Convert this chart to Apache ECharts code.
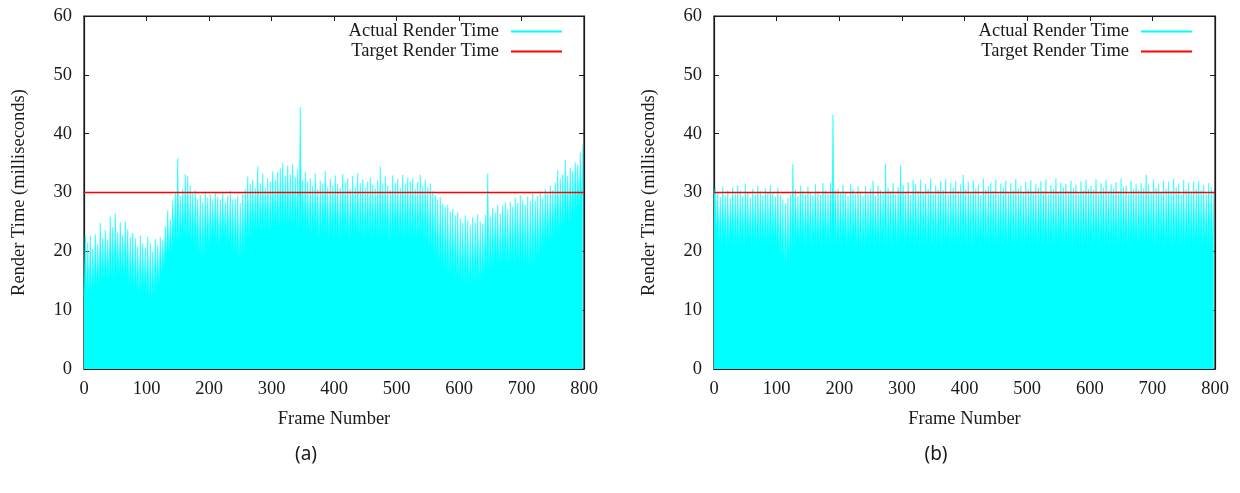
<!DOCTYPE html>
<html>
<head>
<meta charset="utf-8">
<script src="https://cdn.jsdelivr.net/npm/echarts@6/dist/echarts.min.js"></script>
<style>
html,body{margin:0;padding:0;background:#fff;}
#chart{width:1240px;height:493px;}
</style>
</head>
<body>
<div id="chart"></div>
<script>
// ---- data ----
const frameStep = 2; // one value every 2 frames
const xTickMin = 0, xTickMax = 800, xTickStep = 100;
const yTickMin = 0, yTickMax = 60, yTickStep = 10;
const targetRenderTime = 30;
const seriesNames = ['Actual Render Time', 'Target Render Time'];
const panelCaptions = ['(a)', '(b)'];

const actualA = [
12.5,22.8,12.2,21.5,13.0,22.6,12.8,20.4,13.6,22.9,13.9,21.2,14.5,24.8,14.8,22.3,15.1,23.6,14.6,22.0,
15.3,25.9,15.6,24.1,15.0,26.4,15.8,23.2,16.1,24.9,15.4,22.7,15.9,25.1,15.2,23.8,14.1,22.4,13.6,23.1,
12.9,22.2,13.4,20.8,12.4,22.7,12.8,21.3,13.1,20.6,12.2,22.5,11.8,21.4,11.5,19.9,12.6,22.1,13.3,21.0,
14.2,22.4,15.6,21.8,17.1,24.3,18.4,26.9,19.2,25.4,19.8,28.6,20.7,30.1,21.2,35.8,21.5,29.4,21.8,30.6,
22.0,33.1,21.6,32.8,21.9,31.2,21.3,29.8,20.9,30.4,20.4,28.9,19.6,29.6,18.6,28.4,19.1,30.2,20.3,29.1,
20.8,29.7,21.4,28.6,21.9,30.1,21.1,29.3,20.6,28.8,21.5,29.9,21.8,28.4,20.9,29.5,21.2,30.3,20.4,28.7,
19.6,28.9,18.8,29.4,18.5,28.2,19.0,29.8,19.9,30.6,21.2,32.7,22.1,31.4,22.6,32.1,22.9,30.8,23.1,34.4,
23.2,31.6,22.8,33.2,23.4,30.9,23.7,32.4,23.1,31.8,23.5,33.6,23.9,32.2,24.1,33.4,23.6,34.1,23.8,35.0,
24.2,32.9,23.9,34.6,24.4,33.1,23.7,34.8,24.0,32.6,23.6,33.9,23.3,44.5,23.8,32.1,23.1,33.5,22.7,31.8,
22.9,32.4,22.5,31.1,23.0,33.2,22.6,30.6,22.2,32.0,22.8,31.5,23.1,33.6,22.4,30.9,22.0,32.3,22.6,31.2,
22.3,32.9,22.7,31.4,21.9,30.8,22.4,33.1,22.9,31.7,22.1,32.4,21.6,30.5,22.5,32.8,23.0,31.0,22.2,33.3,
22.6,31.6,22.0,32.2,21.8,30.9,22.3,31.8,22.7,32.6,21.9,31.3,22.4,30.7,22.8,32.1,22.1,34.4,21.7,31.5,
22.2,32.7,22.6,31.2,21.5,30.4,22.0,32.9,22.4,31.6,21.8,32.3,22.9,30.8,22.3,33.0,21.6,31.4,22.1,32.5,
22.5,31.9,21.9,32.4,22.2,30.6,21.7,31.8,22.6,33.0,22.0,31.1,21.4,32.2,21.0,30.9,20.3,31.5,19.6,30.2,
19.0,29.6,18.4,28.8,18.0,29.2,17.3,28.1,16.8,27.6,16.4,27.9,16.0,26.8,15.7,27.2,15.3,26.1,15.1,26.6,
14.8,25.6,14.6,24.8,14.3,26.1,14.5,25.2,14.2,24.4,14.0,25.8,14.4,24.9,14.7,26.3,14.9,25.1,14.6,24.7,
15.4,26.2,16.1,33.2,16.8,25.9,17.2,27.4,17.5,26.6,17.8,27.9,17.3,26.4,17.6,27.7,17.9,28.3,17.4,27.1,
17.7,28.4,18.0,27.6,17.6,29.1,17.9,28.2,18.2,29.6,17.8,28.7,17.4,27.9,17.1,29.3,17.0,28.5,17.3,29.8,
17.6,28.6,18.3,29.4,18.9,30.2,19.6,29.1,20.2,30.6,20.8,29.8,21.3,31.2,21.8,30.4,22.2,31.7,22.6,33.8,
23.0,32.4,23.4,33.1,23.9,35.5,24.3,32.8,24.8,34.2,25.2,33.6,25.9,35.1,26.6,34.7,27.4,36.8,28.6,38.4
];

const actualB = [
29.5,30.8,22.4,30.1,21.6,29.2,20.8,31.0,21.9,29.6,20.2,30.4,21.4,29.0,22.1,30.9,20.6,29.8,21.2,31.2,
20.9,30.3,21.7,29.4,20.4,31.5,21.3,30.0,22.0,29.1,20.7,30.6,21.5,29.7,20.3,31.1,21.8,30.2,20.9,29.5,
21.4,30.7,20.6,29.9,21.9,31.3,20.8,30.1,21.2,29.3,20.5,30.8,19.8,29.6,18.9,28.7,17.4,28.2,16.9,29.1,
18.3,29.8,19.6,34.8,20.7,30.5,21.4,29.4,20.9,31.2,21.6,30.3,20.4,29.7,21.1,31.0,21.8,30.1,20.6,29.5,
21.3,31.4,20.8,30.2,21.6,29.6,20.4,31.6,21.9,30.4,21.0,29.8,20.7,31.7,21.5,43.2,21.2,30.3,20.9,30.6,
21.4,29.9,20.6,31.3,21.8,30.1,20.3,29.4,21.1,31.5,20.8,30.6,21.5,29.7,20.4,31.0,20.1,30.2,19.7,29.3,
20.5,31.1,21.2,29.8,20.9,30.7,21.6,32.0,20.3,29.5,21.4,31.2,20.7,30.4,21.8,29.9,21.0,34.9,20.6,30.8,
21.3,30.2,20.5,31.6,21.7,29.7,20.8,30.9,21.2,34.6,21.9,31.3,20.4,30.0,21.5,31.8,20.9,29.6,21.6,32.1,
20.7,31.4,21.8,30.3,20.4,32.2,21.1,29.9,21.6,31.5,20.9,30.6,21.4,32.4,20.6,29.8,21.7,31.2,21.0,30.5,
21.5,31.9,20.8,30.4,21.3,32.3,21.9,29.7,20.5,31.6,21.2,30.8,20.7,32.0,21.6,30.2,21.0,31.4,20.6,33.0,
21.4,30.6,20.9,31.8,21.7,29.9,20.3,32.1,21.1,30.7,21.8,31.3,20.6,29.6,21.3,32.4,20.8,30.5,21.6,31.1,
20.4,31.7,21.5,30.3,20.9,32.2,21.2,29.8,21.7,31.5,20.6,30.9,21.4,32.0,20.7,30.1,21.9,31.6,21.1,30.4,
20.5,32.3,21.3,30.7,21.8,31.2,20.8,29.9,21.0,31.8,21.6,30.5,20.4,32.1,21.2,30.2,21.7,31.4,20.9,30.8,
21.4,31.9,20.6,30.3,21.9,32.2,21.1,29.7,20.7,31.3,21.5,30.6,20.9,32.4,21.3,30.1,21.8,31.7,20.5,30.9,
21.2,31.5,20.8,30.2,21.6,32.0,20.4,30.7,21.3,31.3,21.9,29.8,20.6,31.9,21.0,30.4,21.7,32.2,20.9,30.6,
21.5,31.1,20.7,30.5,21.2,32.3,21.8,29.9,20.5,31.6,21.4,30.8,20.9,32.1,21.6,30.3,20.6,31.4,21.1,30.7,
21.7,31.8,20.8,30.2,21.3,32.4,20.5,30.9,21.9,31.2,21.0,29.8,20.6,32.0,21.4,30.6,21.8,31.5,20.7,30.4,
21.2,31.6,20.9,30.7,21.5,33.0,20.6,31.3,21.7,30.1,21.1,32.2,20.4,30.8,21.6,31.5,20.8,29.9,21.3,32.0,
20.7,30.6,21.8,31.9,21.0,30.3,20.5,32.3,21.4,30.9,21.9,31.4,20.6,29.7,21.2,32.1,20.8,30.5,21.5,31.7,
21.1,30.2,20.7,31.8,21.6,30.6,20.9,32.0,21.3,30.4,20.5,31.3,21.8,29.8,21.0,31.6,20.6,30.9,21.4,30.3
];

// ---- chart ----
const SERIF = '"Liberation Serif", "DejaVu Serif", serif';
const FS = 18.5;
const INK = '#1a1a1a';
const CYAN = '#00ffff';
const RED = '#ff0000';

const panels = [
  { left: 84, width: 500, data: actualA, legendRight: 678, caption: panelCaptions[0], capX: 306 },
  { left: 714, width: 501, data: actualB, legendRight: 48, caption: panelCaptions[1], capX: 936 }
];
const gridTop = 16, gridHeight = 353;

const grids = [], xAxes = [], yAxes = [], series = [], legends = [], graphics = [];

panels.forEach((p, i) => {
  grids.push({ left: p.left, top: gridTop, width: p.width, height: gridHeight,
    show: true, borderColor: INK, borderWidth: 1.2, backgroundColor: 'transparent' });

  const xBase = { gridIndex: i, type: 'value', min: xTickMin, max: xTickMax, interval: xTickStep,
    splitLine: { show: false },
    axisLine: { show: true, onZero: false, lineStyle: { color: INK, width: 1.2 } },
    axisTick: { show: true, inside: true, length: 5, lineStyle: { color: INK, width: 1 } } };
  xAxes.push(Object.assign({}, xBase, { position: 'bottom',
    axisLabel: { margin: 11, fontFamily: SERIF, fontSize: FS, color: INK },
    name: 'Frame Number', nameLocation: 'middle', nameGap: 41,
    nameTextStyle: { fontFamily: SERIF, fontSize: FS, color: INK } }));
  xAxes.push(Object.assign({}, xBase, { position: 'top', axisLabel: { show: false } }));

  const yBase = { gridIndex: i, type: 'value', min: yTickMin, max: yTickMax, interval: yTickStep,
    splitLine: { show: false },
    axisLine: { show: true, onZero: false, lineStyle: { color: INK, width: 1.2 } },
    axisTick: { show: true, inside: true, length: 5, lineStyle: { color: INK, width: 1 } } };
  yAxes.push(Object.assign({}, yBase, { position: 'left',
    axisLabel: { margin: 12, fontFamily: SERIF, fontSize: FS, color: INK },
    name: 'Render Time (milliseconds)', nameLocation: 'middle', nameGap: 55, nameRotate: 90,
    nameTextStyle: { fontFamily: SERIF, fontSize: FS, color: INK } }));
  yAxes.push(Object.assign({}, yBase, { position: 'right', axisLabel: { show: false } }));

  series.push({
    name: seriesNames[0], type: 'line', xAxisIndex: i * 2, yAxisIndex: i * 2,
    data: p.data.map((v, k) => [k * frameStep, v]),
    symbol: 'none', showSymbol: false, sampling: null, smooth: false,
    lineStyle: { color: CYAN, width: 0.5 },
    itemStyle: { color: CYAN },
    areaStyle: { color: CYAN, opacity: 1 },
    z: 2, silent: true
  });
  series.push({
    name: seriesNames[1], type: 'line', xAxisIndex: i * 2, yAxisIndex: i * 2,
    data: [[xTickMin, targetRenderTime], [xTickMax, targetRenderTime]],
    symbol: 'none', showSymbol: false,
    lineStyle: { color: RED, width: 1.5 },
    itemStyle: { color: RED },
    z: 3, silent: true
  });

  legends.push({
    data: seriesNames, orient: 'vertical', right: p.legendRight, top: 22, padding: 0,
    align: 'right', icon: 'rect', itemWidth: 51, itemHeight: 2, itemGap: 1,
    textStyle: { fontFamily: SERIF, fontSize: FS, color: INK, padding: [0, 7, 0, 0] },
    selectedMode: false
  });

  graphics.push({ type: 'text', x: p.capX, y: 445,
    style: { text: p.caption, font: '19px "Noto Sans", "Open Sans", sans-serif', fill: INK, textAlign: 'center' } });
});

const chart = echarts.init(document.getElementById('chart'), null, { renderer: 'canvas' });
chart.setOption({
  animation: false,
  backgroundColor: '#ffffff',
  grid: grids, xAxis: xAxes, yAxis: yAxes, series: series, legend: legends, graphic: graphics
});
</script>
</body>
</html>
